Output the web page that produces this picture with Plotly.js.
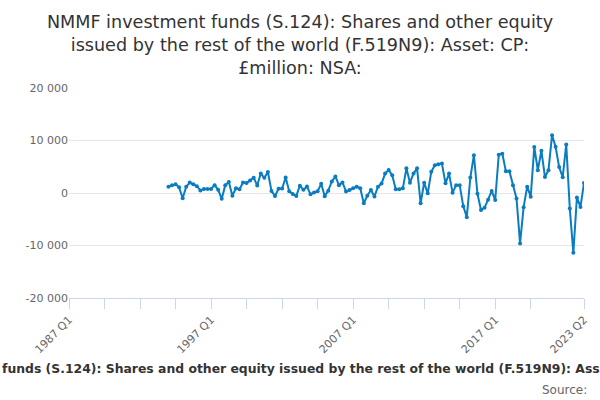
<!DOCTYPE html>
<html>
<head>
<meta charset="utf-8">
<script src="https://cdn.plot.ly/plotly-3.0.1.min.js"></script>
<style>
  html, body { margin: 0; padding: 0; background: #fff; }
  #chart { width: 600px; height: 400px; }
</style>
</head>
<body>
<div id="chart"></div>
<script>
var titleText = 'NMMF investment funds (S.124): Shares and other equity issued by the rest of the world (F.519N9): Asset: CP: £million: NSA:';

// quarterly values, 1994 Q1 to 2023 Q2 (£million)
var firstYear = 1994;
var values = [
  1200, 1500, 1650, 1100, -1000, 1200, 2000, 1650, 1300, 500,
  750, 750, 750, 1500, 600, -1100, 1500, 2100, -500, 900,
  700, 2000, 1900, 2400, 2900, 1450, 3700, 2900, 4000, 400,
  -560, 800, 850, 2950, 350, -200, -550, 1400, 600, 1250,
  -250, 100, 350, 1750, -600, 450, 2200, 3150, 1500, 2000,
  300, 570, 890, 1200, 890, -1960, -500, 570, -650, 1200,
  1800, 3700, 4370, 3400, 700, 700, 890, 4700, 1960, 3700,
  4700, -1960, 1960, -60, 4050, 5300, 5500, 5600, 1840, 3700,
  60, 1500, 1500, -2500, -4600, 2950, 7200, -150, -3250, -2800,
  -1270, 400, -1350, 7300, 7500, 4150, 4150, 1500, -1050, -9600,
  -2700, 1200, -700, 8750, 4350, 8050, 3050, 4350, 11000, 8800,
  4950, 3000, 9250, -2950, -11400, -850, -2650, 1900
];

// axis categories run from 1987 Q1 to 2023 Q2
var axisStart = 1987;
var axisEnd = 2023;
var axisEndQuarter = 2;
var categories = [];
for (var y = axisStart; y <= axisEnd; y++) {
  for (var q = 1; q <= 4; q++) {
    if (y === axisEnd && q > axisEndQuarter) break;
    categories.push(y + ' Q' + q);
  }
}

var quarters = [];
for (var i = 0; i < values.length; i++) {
  quarters.push((firstYear + Math.floor(i / 4)) + ' Q' + (i % 4 + 1));
}

var xTickLabels = ['1987 Q1', '1997 Q1', '2007 Q1', '2017 Q1', '2023 Q2'];
var xTickVals = [];
var xTickText = [];
for (var k = 0; k < categories.length - 10; k += 10) {
  xTickVals.push(categories[k]);
  xTickText.push(xTickLabels.indexOf(categories[k]) >= 0 ? categories[k] : '');
}
xTickVals.push(categories[categories.length - 1]);
xTickText.push(categories[categories.length - 1]);

var yTickVals = [-20000, -10000, 0, 10000, 20000];
var yTickText = ['-20 000', '-10 000', '0', '10 000', '20 000'];

var trace = {
  x: quarters,
  y: values,
  type: 'scatter',
  mode: 'lines+markers',
  line: { color: '#0a7cc1', width: 2 },
  marker: { color: '#0a7cc1', size: 4 },
  showlegend: false,
  hoverinfo: 'x+y'
};

var layout = {
  width: 600,
  height: 400,
  font: { family: 'DejaVu Sans, sans-serif', color: '#666666', size: 11 },
  paper_bgcolor: '#ffffff',
  plot_bgcolor: '#ffffff',
  margin: { l: 69, r: 16, t: 88, b: 102 },
  title: {
    text: 'NMMF investment funds (S.124): Shares and other equity<br>issued by the rest of the world (F.519N9): Asset: CP:<br>£million: NSA:',
    font: { size: 17.6, color: '#333333' },
    x: 0.5,
    xanchor: 'center',
    yref: 'container',
    y: 0.93,
    yanchor: 'top'
  },
  xaxis: {
    type: 'category',
    categoryorder: 'array',
    categoryarray: categories,
    range: [0, categories.length - 1],
    tickmode: 'array',
    tickvals: xTickVals,
    ticktext: xTickText,
    tickangle: -45,
    ticks: 'outside',
    ticklen: 10,
    tickcolor: '#ccd6eb',
    showline: true,
    linecolor: '#ccd6eb',
    linewidth: 1,
    showgrid: false,
    zeroline: false,
    tickfont: { size: 11, color: '#666666' },
    automargin: false
  },
  yaxis: {
    range: [-20000, 20000],
    tickmode: 'array',
    tickvals: yTickVals,
    ticktext: yTickText,
    showgrid: true,
    gridcolor: '#e6e6e6',
    zeroline: false,
    showline: false,
    ticks: '',
    tickfont: { size: 11, color: '#666666' },
    automargin: false
  },
  annotations: [{
    // x axis title, wider than the chart and cut at both sides as in the original
    text: '<b>' + titleText + '</b>',
    xref: 'paper',
    yref: 'paper',
    x: 0.468,
    y: -0.338,
    xanchor: 'center',
    yanchor: 'middle',
    showarrow: false,
    font: { size: 12.4, color: '#333333' }
  }, {
    text: 'Source:',
    xref: 'paper',
    yref: 'paper',
    x: 1.01,
    y: -0.44,
    xanchor: 'right',
    yanchor: 'middle',
    showarrow: false,
    font: { size: 12, color: '#666666' }
  }]
};

Plotly.newPlot('chart', [trace], layout, { displayModeBar: false, staticPlot: true });
</script>
</body>
</html>
